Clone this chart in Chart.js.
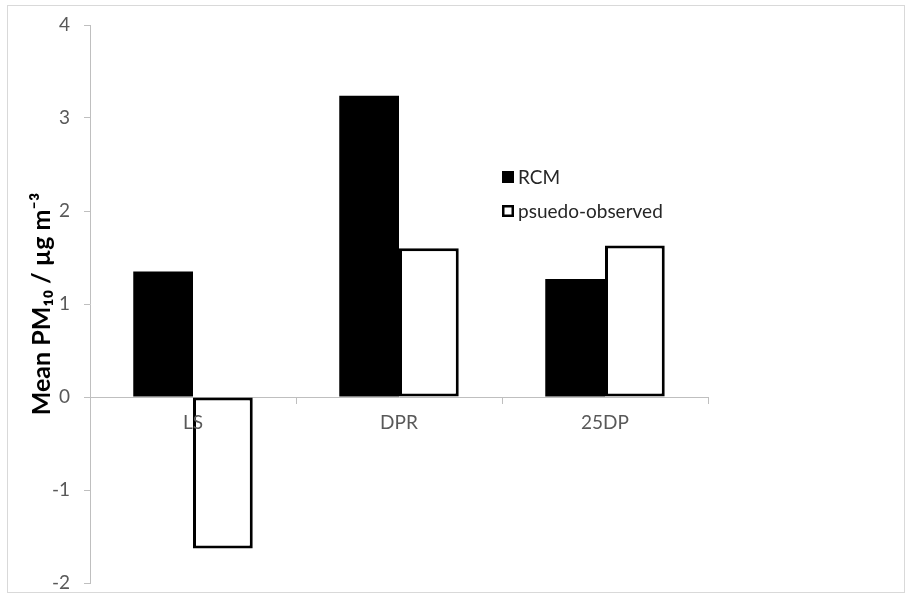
<!DOCTYPE html>
<html>
<head>
<meta charset="utf-8">
<script src="https://cdn.jsdelivr.net/npm/chart.js@4/dist/chart.umd.min.js"></script>
<style>
  html, body { margin: 0; padding: 0; background: #fff; }
  #wrap { width: 907px; height: 599px; position: relative; }
</style>
</head>
<body>
<div id="wrap"><canvas id="pmChart"></canvas></div>
<script>
// values
const categories = ['LS', 'DPR', '25DP'];
const rcmValues = [1.35, 3.24, 1.27];
const pseudoValues = [-1.63, 1.60, 1.63];
const seriesNames = ['RCM', 'psuedo-observed'];
const yMin = -2;
const yMax = 4;

const fontFamily = 'Lato, "Open Sans", sans-serif';

// light frame round the whole chart, like the Excel chart area
const framePlugin = {
    id: 'frame',
    beforeDraw(chart) {
        const c = chart.ctx;
        c.save();
        c.fillStyle = '#fff';
        c.fillRect(0, 0, chart.width, chart.height);
        c.strokeStyle = '#d9d9d9';
        c.lineWidth = 1;
        c.strokeRect(7.5, 5.5, 897, 587);
        c.restore();
    }
};

// legend sits inside the plot, so draw it by hand from the datasets
const innerLegend = {
    id: 'innerLegend',
    afterDraw(chart) {
        const c = chart.ctx;
        const x = 502, y0 = 177, rowGap = 34, box = 12;
        c.save();
        c.font = '19px ' + fontFamily;
        c.textBaseline = 'middle';
        c.textAlign = 'left';
        chart.data.datasets.forEach((ds, i) => {
            const y = y0 + i * rowGap;
            c.fillStyle = ds.backgroundColor;
            c.fillRect(x, y - box / 2, box, box);
            if (ds.borderWidth) {
                c.strokeStyle = ds.borderColor;
                c.lineWidth = 2.5;
                c.strokeRect(x + 1.25, y - box / 2 + 1.25, box - 2.5, box - 2.5);
            }
            c.fillStyle = '#262626';
            c.fillText(ds.label, x + box + 4, y + 1);
        });
        c.restore();
    }
};

new Chart(document.getElementById('pmChart'), {
    type: 'bar',
    data: {
        labels: categories,
        datasets: [{
            label: seriesNames[0],
            data: rcmValues,
            backgroundColor: '#000',
            borderWidth: 0
        }, {
            label: seriesNames[1],
            data: pseudoValues,
            backgroundColor: '#fff',
            borderColor: '#000',
            borderWidth: 3,
            borderSkipped: false
        }]
    },
    options: {
        responsive: true,
        maintainAspectRatio: false,
        animation: false,
        layout: { padding: { left: 7, right: 199, top: 25, bottom: 16 } },
        datasets: {
            bar: { categoryPercentage: 0.58, barPercentage: 1 }
        },
        scales: {
            x: {
                position: { y: 0 },
                // the axis crosses at zero, so it should take no room at the bottom
                afterFit(scale) { scale.height = 0; },
                grid: {
                    display: true,
                    drawOnChartArea: false,
                    drawTicks: true,
                    tickLength: 6,
                    color: '#bfbfbf'
                },
                border: { display: true, color: '#bfbfbf' },
                ticks: {
                    z: 1,
                    color: '#595959',
                    font: { family: fontFamily, size: 19 },
                    padding: 8,
                    maxRotation: 0
                }
            },
            y: {
                min: yMin,
                max: yMax,
                afterFit(scale) {
                    scale.width = 83;
                    // tick padding would otherwise push the plot in top and bottom
                    scale.paddingTop = 0;
                    scale.paddingBottom = 0;
                },
                grid: {
                    display: true,
                    drawOnChartArea: false,
                    drawTicks: true,
                    tickLength: 6,
                    color: '#bfbfbf'
                },
                border: { display: true, color: '#bfbfbf' },
                ticks: {
                    stepSize: 1,
                    color: '#595959',
                    font: { family: fontFamily, size: 19 },
                    padding: 14
                },
                title: {
                    display: true,
                    text: 'Mean PM\u2081\u2080 / \u00b5g m\u207b\u00b3',
                    color: '#000',
                    font: { family: fontFamily, size: 25, weight: 'bold' },
                    padding: { top: 20, bottom: 0 }
                }
            }
        },
        plugins: {
            legend: { display: false },
            tooltip: { enabled: false }
        }
    },
    plugins: [framePlugin, innerLegend]
});
</script>
</body>
</html>
